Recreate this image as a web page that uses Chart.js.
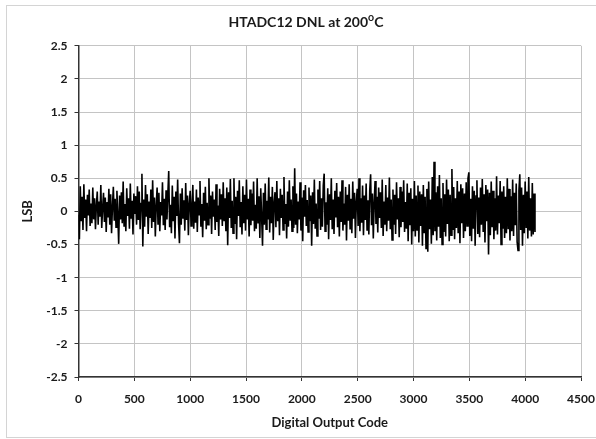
<!DOCTYPE html>
<html>
<head>
<meta charset="utf-8">
<script src="https://cdn.jsdelivr.net/npm/chart.js@4"></script>
<style>
  html, body { margin: 0; padding: 0; background: #fff; }
  #wrap { width: 596px; height: 439px; }
</style>
</head>
<body>
<div id="wrap"><canvas id="dnlChart" width="596" height="439"></canvas></div>
<script>
// DNL values, one every CODE_STEP codes (LSB)
var CODE_STEP = 8;
var dnl = [
  -0.05, -0.42, 0.38, -0.15, 0.22, -0.28, 0.41, -0.10, 0.18, -0.30, 0.25, -0.06, 0.33, -0.22, 0.12, -0.18,
  0.36, -0.12, 0.20, -0.27, 0.09, 0.30, -0.20, 0.15, -0.08, 0.40, -0.25, 0.05, 0.28, -0.16, 0.21, -0.31,
  0.14, -0.09, 0.34, -0.20, 0.26, -0.33, 0.07, 0.37, -0.14, 0.19, -0.24, 0.31, -0.05, -0.49, 0.24, -0.12,
  0.29, -0.18, 0.45, -0.22, 0.11, -0.30, 0.35, -0.07, 0.20, -0.26, 0.42, -0.11, 0.16, -0.35, 0.27, -0.04,
  0.23, -0.20, 0.38, -0.13, 0.30, -0.27, 0.12, 0.57, -0.53, 0.18, -0.23, 0.40, -0.08, 0.26, -0.34, 0.15,
  -0.10, 0.33, -0.25, 0.47, -0.16, 0.21, -0.38, 0.09, 0.36, -0.19, 0.28, -0.30, 0.14, -0.06, 0.44, -0.21,
  0.19, -0.28, 0.32, -0.12, 0.25, 0.61, -0.24, 0.10, -0.33, 0.39, -0.15, 0.22, -0.41, 0.30, -0.07, 0.48,
  -0.18, -0.48, 0.27, -0.20, 0.35, -0.10, 0.17, -0.29, 0.43, -0.13, 0.24, -0.36, 0.12, 0.31, -0.22, 0.08,
  0.40, -0.26, 0.15, -0.17, 0.33, -0.31, 0.21, -0.05, 0.46, -0.23, 0.11, -0.39, 0.28, -0.14, 0.37, -0.27,
  0.13, -0.20, 0.50, -0.11, 0.24, -0.34, 0.30, -0.08, 0.18, -0.28, 0.41, -0.16, 0.09, -0.37, 0.34, -0.12,
  0.26, -0.22, 0.44, -0.15, 0.20, -0.30, 0.36, -0.51, 0.29, -0.10, 0.49, -0.25, 0.16, -0.33, 0.50, -0.19,
  0.22, -0.42, 0.31, -0.07, 0.47, -0.24, 0.14, -0.35, 0.38, -0.18, 0.25, -0.29, 0.48, -0.12, 0.19, -0.38,
  0.33, -0.21, 0.27, -0.14, 0.45, -0.30, 0.10, -0.26, 0.50, -0.17, 0.23, -0.40, 0.35, -0.09, -0.52, 0.28,
  -0.20, 0.42, -0.27, 0.16, -0.12, 0.51, -0.32, 0.22, -0.18, 0.37, -0.43, 0.13, 0.29, -0.24, 0.46, -0.15,
  0.20, -0.36, 0.34, -0.10, 0.25, -0.28, 0.52, -0.19, 0.11, -0.41, 0.30, -0.23, 0.47, -0.14, 0.18, -0.30,
  0.38, -0.25, 0.65, -0.20, 0.27, -0.33, 0.15, -0.12, 0.44, -0.29, 0.21, -0.45, 0.32, -0.08, 0.40, -0.22,
  0.17, -0.31, 0.36, -0.15, 0.24, -0.52, 0.29, -0.19, 0.48, -0.26, 0.12, -0.37, 0.33, -0.11, 0.46, -0.28,
  0.20, -0.23, 0.39, 0.57, -0.30, 0.14, -0.20, 0.35, -0.42, 0.26, -0.13, 0.50, -0.27, 0.18, -0.34, 0.31,
  -0.09, 0.43, -0.24, 0.22, -0.38, 0.30, -0.16, 0.47, -0.29, 0.12, -0.20, 0.37, -0.44, 0.25, -0.14, 0.41,
  -0.26, 0.19, -0.33, 0.45, -0.11, 0.28, -0.40, 0.15, 0.34, -0.22, 0.50, -0.30, 0.20, -0.17, 0.39, -0.36,
  0.24, -0.13, 0.42, -0.28, 0.17, -0.35, 0.31, 0.56, -0.21, 0.27, -0.41, 0.13, 0.46, -0.19, 0.22, -0.32,
  0.36, -0.10, 0.29, -0.25, 0.48, -0.37, 0.15, -0.20, 0.40, -0.30, 0.21, -0.14, 0.51, -0.27, 0.18, -0.43,
  0.33, -0.20, 0.25, -0.34, 0.44, -0.12, 0.20, -0.39, 0.37, -0.24, 0.30, -0.16, 0.47, -0.31, 0.14, -0.26,
  0.42, -0.45, 0.28, -0.21, 0.35, -0.50, 0.19, -0.30, 0.46, -0.38, 0.24, -0.28, 0.39, -0.47, 0.30, -0.22,
  0.26, -0.52, 0.40, -0.33, 0.22, -0.56, 0.34, -0.61, 0.45, -0.27, 0.18, -0.49, 0.52, -0.36, 0.75, -0.30,
  0.29, -0.44, 0.38, -0.23, 0.55, -0.40, 0.20, -0.50, 0.43, -0.31, 0.26, -0.38, 0.48, -0.19, 0.33, -0.45,
  0.25, -0.36, 0.64, -0.28, 0.37, -0.42, 0.20, -0.25, 0.46, -0.33, 0.30, -0.48, 0.41, -0.18, 0.35, -0.40,
  0.27, -0.30, 0.44, -0.22, 0.50, 0.59, -0.37, 0.19, -0.45, 0.38, -0.26, 0.31, -0.52, 0.23, 0.47, -0.34,
  0.21, -0.39, 0.36, -0.20, 0.49, -0.31, 0.26, -0.47, 0.40, -0.15, 0.33, -0.65, 0.28, -0.36, 0.45, -0.24,
  0.31, -0.42, 0.20, -0.29, 0.53, -0.35, 0.24, -0.18, 0.46, -0.50, 0.30, -0.26, 0.38, -0.40, 0.22, -0.33,
  0.50, -0.27, 0.34, -0.44, 0.23, -0.30, 0.48, -0.37, 0.28, -0.21, 0.42, -0.46, -0.59, 0.31, 0.56, -0.28,
  0.36, -0.52, 0.25, -0.33, 0.45, -0.24, 0.30, -0.41, 0.52, -0.29, 0.20, -0.38, 0.43, -0.35, 0.27, -0.31
];

// axis ticks
var xTicks = [0, 500, 1000, 1500, 2000, 2500, 3000, 3500, 4000, 4500];
var yTicks = [2.5, 2, 1.5, 1, 0.5, 0, -0.5, -1, -1.5, -2, -2.5];

var points = dnl.map(function (v, i) {
    return { x: i * CODE_STEP, y: v };
});

// white page with the light frame round it
var framePlugin = {
    id: 'frame',
    beforeDraw: function (chart) {
        var c = chart.ctx;
        c.save();
        c.fillStyle = '#fff';
        c.fillRect(0, 0, chart.width, chart.height);
        c.strokeStyle = '#d4d4d4';
        c.lineWidth = 1;
        c.strokeRect(6.5, 5.5, 620, 432);
        c.restore();
    }
};

Chart.defaults.font.family = 'Lato, "DejaVu Sans", sans-serif';
Chart.defaults.font.weight = 'bold';
Chart.defaults.color = '#1a1a1a';

var ctx = document.getElementById('dnlChart');

var chart = new Chart(ctx, {
    type: 'line',
    data: {
        datasets: [{
            data: points,
            borderColor: '#000',
            borderWidth: 1.6,
            pointRadius: 0,
            tension: 0,
            fill: false
        }]
    },
    plugins: [framePlugin],
    options: {
        responsive: false,
        animation: false,
        events: [],
        layout: { padding: { top: 8, left: 16, right: 0, bottom: 0 } },
        plugins: {
            legend: { display: false },
            tooltip: { enabled: false },
            title: {
                display: true,
                text: 'HTADC12 DNL at 200\u1D3CC',
                font: { size: 14, weight: 'bold' },
                color: '#1a1a1a',
                padding: { top: 6, bottom: 15 }
            }
        },
        scales: {
            x: {
                type: 'linear',
                min: 0,
                max: 4500,
                afterBuildTicks: function (axis) {
                    axis.ticks = xTicks.map(function (v) { return { value: v }; });
                },
                afterFit: function (axis) {
                    axis.height = 62;
                    axis.paddingRight = 15;
                },
                ticks: {
                    padding: 11,
                    maxRotation: 0,
                    font: { size: 12, weight: 'bold' },
                    callback: function (v) { return String(v); }
                },
                grid: {
                    color: '#c4c4c4',
                    tickColor: '#333',
                    tickLength: 4
                },
                border: { color: '#333', width: 1.5 },
                title: {
                    display: true,
                    text: 'Digital Output Code',
                    font: { size: 13, weight: 'bold' },
                    padding: { top: 0, bottom: 8 }
                }
            },
            y: {
                min: -2.5,
                max: 2.5,
                afterBuildTicks: function (axis) {
                    axis.ticks = yTicks.map(function (v) { return { value: v }; });
                },
                afterFit: function (axis) {
                    axis.width = 62.5;
                },
                ticks: {
                    padding: 7,
                    font: { size: 12, weight: 'bold' },
                    callback: function (v) { return String(v); }
                },
                grid: {
                    color: '#c4c4c4',
                    tickColor: '#333',
                    tickLength: 4
                },
                border: { color: '#333', width: 1.5 },
                title: {
                    display: true,
                    text: 'LSB',
                    font: { size: 13, weight: 'bold' },
                    padding: { top: 4, bottom: 0 }
                }
            }
        }
    }
});
</script>
</body>
</html>
